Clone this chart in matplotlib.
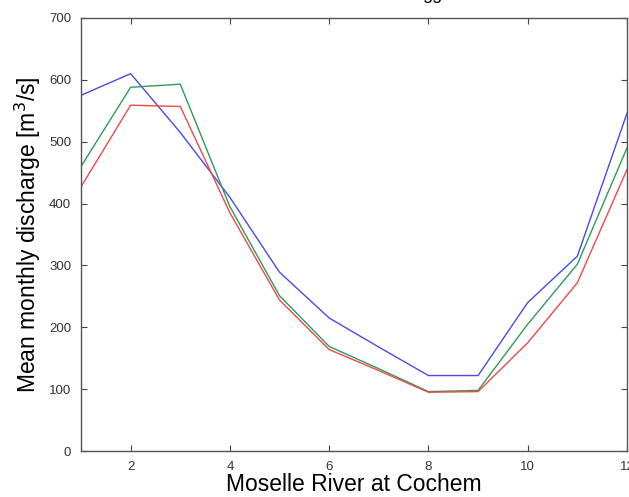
import matplotlib
matplotlib.use("Agg")
import matplotlib.pyplot as plt

months = [1, 2, 3, 4, 5, 6, 7, 8, 9, 10, 11, 12]
blue_series = [575, 610, 515, 410, 289, 215, 168, 122, 122, 240, 315, 546]
green_series = [460, 588, 593, 395, 251, 169, 133, 96, 98, 205, 302, 490]
red_series = [427, 559, 557, 385, 244, 164, 130, 95, 96, 175, 272, 455]
xticks = [2, 4, 6, 8, 10, 12]
yticks = [0, 100, 200, 300, 400, 500, 600, 700]

plt.rcParams['font.family'] = ['Liberation Sans', 'DejaVu Sans']

fig = plt.figure(figsize=(6.29, 4.97), dpi=100)
ax = fig.add_axes([81/629, 1-451/497, (627-81)/629, (451-18)/497])

ax.plot(months, blue_series, color='#4a4ae6', lw=1.0)
ax.plot(months, green_series, color='#2e9a5c', lw=1.0)
ax.plot(months, red_series, color='#f04848', lw=1.0)

ax.set_xlim(1, 12)
ax.set_ylim(0, 700)
ax.set_xticks(xticks)
ax.set_yticks(yticks)
ax.tick_params(direction='in', top=True, right=True, labelsize=9.5,
               length=4, color='#444444', labelcolor='#333333', pad=7)
for s in ax.spines.values():
    s.set_color('#555555')
    s.set_linewidth(1.0)

ax.set_xlabel('Moselle River at Cochem', fontsize=16.5, labelpad=0)
ax.set_ylabel('Mean monthly discharge [m$^3$/s]', fontsize=16.5, labelpad=4)

fig.text(432/629, 1 + 1/497, 'gg', ha='center', va='baseline', fontsize=13)

fig.savefig('out.png', dpi=100)
